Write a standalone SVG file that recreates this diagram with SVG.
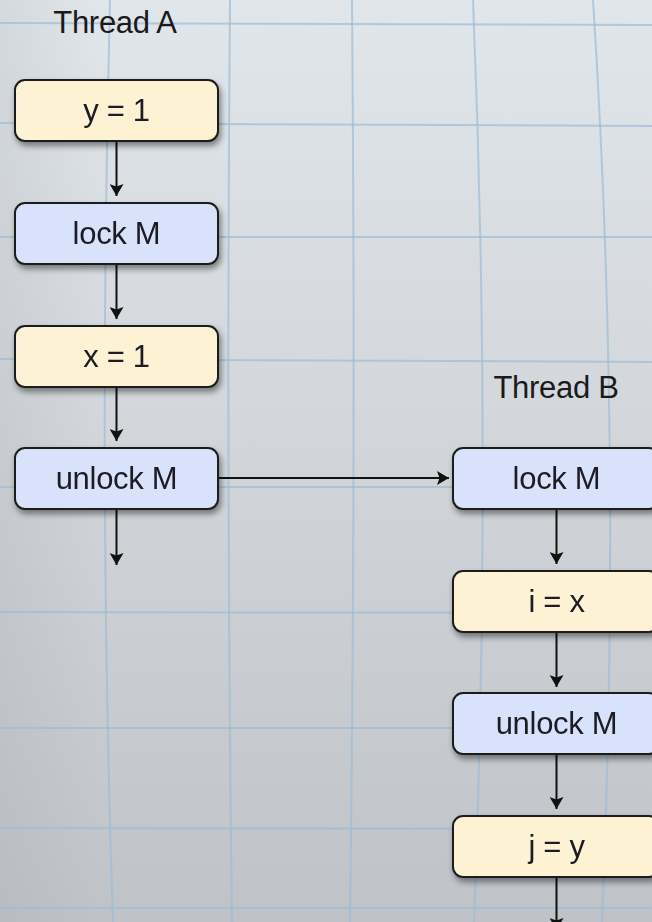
<svg xmlns="http://www.w3.org/2000/svg" width="652" height="922" viewBox="0 0 652 922">
  <defs>
    <linearGradient id="paper" x1="0" y1="0" x2="0" y2="1">
      <stop offset="0" stop-color="#e1e6ea"/>
      <stop offset="0.45" stop-color="#d3d7db"/>
      <stop offset="1" stop-color="#bfc2c7"/>
    </linearGradient>
    <linearGradient id="sideShade" x1="0" y1="0" x2="1" y2="0">
      <stop offset="0" stop-color="#9a9ea4" stop-opacity="0.18"/>
      <stop offset="0.15" stop-color="#9a9ea4" stop-opacity="0"/>
      <stop offset="1" stop-color="#9a9ea4" stop-opacity="0"/>
    </linearGradient>
    <filter id="shadow" x="-10%" y="-20%" width="125%" height="150%">
      <feDropShadow dx="2" dy="4" stdDeviation="3" flood-color="#000" flood-opacity="0.45"/>
    </filter>
    <marker id="arrow" viewBox="0 0 12 14" refX="12" refY="7" markerWidth="12" markerHeight="14" markerUnits="userSpaceOnUse" orient="auto">
      <path d="M0,0 L12,7 L0,14 L2.5,7 Z" fill="#111"/>
    </marker>
    <style>
      .grid { fill: none; stroke: #9dbcd6; stroke-width: 2; stroke-opacity: 0.7; }
      .box { stroke: #1e1e1e; stroke-width: 2; }
      .op { fill: #fdf3d4; }
      .sync { fill: #d9e2fb; }
      .label { font-family: "Liberation Sans", Arial, sans-serif; font-size: 31px; fill: #1a1a22; text-anchor: middle; letter-spacing: -0.3px; }
      .title { font-family: "Liberation Sans", Arial, sans-serif; font-size: 31px; fill: #1a1a1a; text-anchor: middle; letter-spacing: -0.3px; }
      .edge { fill: none; stroke: #111; stroke-width: 2; marker-end: url(#arrow); }
    </style>
  </defs>

  <!-- graph-paper background -->
  <rect x="0" y="0" width="652" height="922" fill="url(#paper)"/>
  <rect x="0" y="0" width="652" height="922" fill="url(#sideShade)"/>
  <g id="grid">
    <path class="grid" d="M110,0 Q98,480 113,922"/>
    <path class="grid" d="M230,0 Q226,460 232,922"/>
    <path class="grid" d="M352,0 Q356,460 350,922"/>
    <path class="grid" d="M473,0 Q492,460 474,922"/>
    <path class="grid" d="M593,0 Q622,450 602,922"/>
    <path class="grid" d="M0,23 L652,25"/>
    <path class="grid" d="M0,123 L652,126"/>
    <path class="grid" d="M0,237 L652,237"/>
    <path class="grid" d="M0,359 L652,362"/>
    <path class="grid" d="M0,487 L652,487"/>
    <path class="grid" d="M0,612 L652,613"/>
    <path class="grid" d="M0,728 L652,728"/>
    <path class="grid" d="M0,828 L652,829"/>
    <path class="grid" d="M0,908 L652,908"/>
  </g>

  <!-- thread titles -->
  <text class="title" x="115" y="33">Thread A</text>
  <text class="title" x="556" y="398">Thread B</text>

  <!-- connectors -->
  <g id="connectors">
    <line class="edge" x1="116.5" y1="141" x2="116.5" y2="196"/>
    <line class="edge" x1="116.5" y1="264" x2="116.5" y2="319"/>
    <line class="edge" x1="116.5" y1="387" x2="116.5" y2="441"/>
    <line class="edge" x1="116.5" y1="509" x2="116.5" y2="565"/>
    <line class="edge" x1="218" y1="478" x2="449" y2="478"/>
    <line class="edge" x1="556.5" y1="509" x2="556.5" y2="564"/>
    <line class="edge" x1="556.5" y1="632" x2="556.5" y2="687"/>
    <line class="edge" x1="556.5" y1="754" x2="556.5" y2="809"/>
    <line class="edge" x1="556.5" y1="877" x2="556.5" y2="930"/>
  </g>

  <!-- Thread A -->
  <g id="a-y1" filter="url(#shadow)">
    <rect class="box op" x="15" y="80" width="203" height="61" rx="10"/>
    <text class="label" x="116.5" y="121">y = 1</text>
  </g>
  <g id="a-lock" filter="url(#shadow)">
    <rect class="box sync" x="15" y="203" width="203" height="61" rx="10"/>
    <text class="label" x="116.5" y="244">lock M</text>
  </g>
  <g id="a-x1" filter="url(#shadow)">
    <rect class="box op" x="15" y="326" width="203" height="61" rx="10"/>
    <text class="label" x="116.5" y="367">x = 1</text>
  </g>
  <g id="a-unlock" filter="url(#shadow)">
    <rect class="box sync" x="15" y="448" width="203" height="61" rx="10"/>
    <text class="label" x="116.5" y="489">unlock M</text>
  </g>

  <!-- Thread B -->
  <g id="b-lock" filter="url(#shadow)">
    <rect class="box sync" x="453" y="448" width="206" height="61" rx="10"/>
    <text class="label" x="556.5" y="489">lock M</text>
  </g>
  <g id="b-ix" filter="url(#shadow)">
    <rect class="box op" x="453" y="571" width="206" height="61" rx="10"/>
    <text class="label" x="556.5" y="612">i = x</text>
  </g>
  <g id="b-unlock" filter="url(#shadow)">
    <rect class="box sync" x="453" y="693" width="206" height="61" rx="10"/>
    <text class="label" x="556.5" y="734">unlock M</text>
  </g>
  <g id="b-jy" filter="url(#shadow)">
    <rect class="box op" x="453" y="816" width="206" height="61" rx="10"/>
    <text class="label" x="556.5" y="857">j = y</text>
  </g>
</svg>
